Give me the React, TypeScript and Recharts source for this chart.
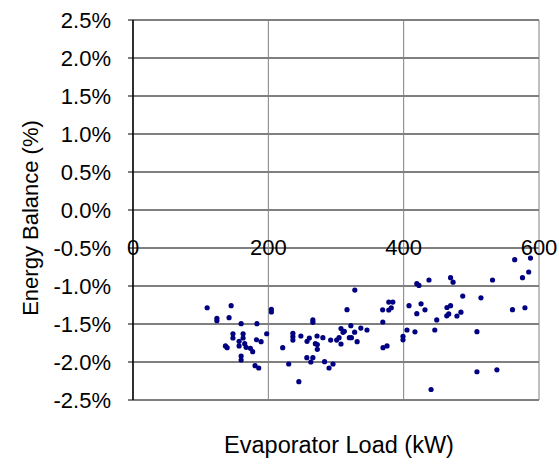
import React from 'react';
import {
  ScatterChart,
  Scatter,
  XAxis,
  YAxis,
  CartesianGrid,
  ReferenceLine,
} from 'recharts';

// evaporator load (kW) and energy balance (%) for each test point
const evaporatorLoad = [
  109.6, 124, 124, 145, 142, 159.8, 183.1, 204.5, 204.5, 197.6,
  147.7, 147.7, 162.7, 162.7, 136.6, 139.1, 156.8, 156.8, 165.1, 167.2,
  173.5, 176.9, 182.4, 189.3, 159.8, 159.8, 180.4, 185.8, 221.2, 230.1,
  245.1, 236.3, 236.3, 236.3, 248.1, 265.8, 265.8, 257.2, 260.6, 272,
  280.6, 269.5, 272.4, 272.4, 256.9, 265.8, 262.8, 283.1, 289.7, 295.6,
  292.1, 301, 304.5, 307.4, 307.4, 310.4, 312.3, 316.3, 321.9, 327.5,
  319.7, 322.7, 331.2, 336.7, 345.8, 327.8, 368.9, 378, 381.7, 378,
  384, 369.2, 369.5, 375.4, 399, 399, 404.9, 416.7, 419.4, 422.6,
  437.4, 407.9, 419.4, 425.7, 431.5, 440.5, 448.9, 446, 464, 469.3,
  463.7, 466.6, 478.7, 484.6, 469.3, 473, 487.3, 514.2, 508.3, 508.3,
  537.8, 531.3, 560.8, 579.2, 564.1, 587.4, 575.6, 584.8,
];

const energyBalance = [
  -1.286, -1.425, -1.457, -1.259, -1.417, -1.496, -1.496, -1.307, -1.342, -1.628,
  -1.628, -1.684, -1.628, -1.684, -1.789, -1.812, -1.728, -1.789, -1.759, -1.807,
  -1.82, -1.864, -1.707, -1.733, -1.921, -1.974, -2.049, -2.079, -1.812, -2.026,
  -2.259, -1.622, -1.667, -1.711, -1.658, -1.447, -1.478, -1.728, -1.684, -1.658,
  -1.68, -1.759, -1.77, -1.833, -1.943, -1.943, -2.0, -1.996, -2.079, -2.026,
  -1.711, -1.711, -1.68, -1.763, -1.559, -1.609, -1.596, -1.312, -1.522, -1.608,
  -1.68, -1.68, -1.733, -1.553, -1.579, -1.053, -1.313, -1.316, -1.286, -1.211,
  -1.211, -1.474, -1.812, -1.789, -1.661, -1.708, -1.579, -1.603, -0.97, -0.993,
  -0.921, -1.259, -1.364, -1.234, -1.313, -2.362, -1.447, -1.579, -1.283, -1.259,
  -1.392, -1.368, -1.395, -1.345, -0.891, -0.95, -1.132, -1.155, -1.601, -2.128,
  -2.103, -0.921, -1.312, -1.286, -0.654, -0.632, -0.891, -0.816,
];

const xTicks = [0, 200, 400, 600];
const yTicks = [2.5, 2.0, 1.5, 1.0, 0.5, 0.0, -0.5, -1.0, -1.5, -2.0, -2.5];

const points = evaporatorLoad.map((load, i) => ({
  load,
  balance: energyBalance[i],
}));

const FONT = '"Liberation Sans", Arial, sans-serif';
const FONT_SIZE = 22;

// Excel draws the x labels on the -0.5% crossing line, not under the plot
const XTick = (props: any) => {
  const { x, y, payload } = props;
  return (
    <text
      x={x}
      y={y - 153}
      textAnchor="middle"
      dominantBaseline="central"
      fontSize={FONT_SIZE}
      fontFamily={FONT}
      fill="#000"
    >
      {payload.value}
    </text>
  );
};

const YTick = (props: any) => {
  const { x, y, payload } = props;
  return (
    <text
      x={x}
      y={y}
      textAnchor="end"
      dominantBaseline="central"
      fontSize={FONT_SIZE}
      fontFamily={FONT}
      fill="#000"
    >
      {`${payload.value.toFixed(1)}%`}
    </text>
  );
};

const Dot = (props: any) => (
  <circle cx={props.cx} cy={props.cy} r={2.6} fill="#000080" />
);

const App: React.FC = () => {
  return (
    <div
      style={{
        position: 'absolute',
        left: 0,
        top: 0,
        width: 559,
        height: 468,
        background: '#fff',
      }}
    >
      <ScatterChart
        width={559}
        height={468}
        margin={{ top: 20, right: 20, bottom: 0, left: 0 }}
      >
        <CartesianGrid horizontal={true} vertical={false} stroke="#000" />
        <CartesianGrid horizontal={false} vertical={true} stroke="#808080" />
        <XAxis
          type="number"
          dataKey="load"
          domain={[0, 600]}
          ticks={xTicks}
          height={68}
          tickLine={false}
          tickSize={0}
          tickMargin={0}
          axisLine={{ stroke: '#808080' }}
          tick={<XTick />}
          label={{
            content: (p: any) => {
              const vb = p.viewBox;
              return (
                <text
                  x={vb.x + vb.width / 2 + 3}
                  y={vb.y + 45}
                  textAnchor="middle"
                  dominantBaseline="central"
                  fontSize={23.5}
                  fontFamily={FONT}
                  fill="#000"
                >
                  Evaporator Load (kW)
                </text>
              );
            },
          }}
        />
        <YAxis
          type="number"
          dataKey="balance"
          domain={[-2.5, 2.5]}
          ticks={yTicks}
          width={133}
          tickSize={5}
          tickMargin={17}
          tickLine={{ stroke: '#000' }}
          axisLine={{ stroke: '#000', strokeWidth: 1.5 }}
          tick={<YTick />}
          label={{
            content: (p: any) => {
              const vb = p.viewBox;
              const cx = vb.x + 30;
              const cy = vb.y + vb.height / 2 + 8;
              return (
                <text
                  x={cx}
                  y={cy}
                  transform={`rotate(-90, ${cx}, ${cy})`}
                  textAnchor="middle"
                  dominantBaseline="central"
                  fontSize={FONT_SIZE}
                  fontFamily={FONT}
                  fill="#000"
                >
                  Energy Balance (%)
                </text>
              );
            },
          }}
        />
        <ReferenceLine y={2.5} stroke="#808080" />
        <ReferenceLine y={-2.5} stroke="#808080" />
        <Scatter
          name="Energy Balance"
          data={points}
          shape={<Dot />}
          isAnimationActive={false}
        />
      </ScatterChart>
    </div>
  );
};

export default App;
